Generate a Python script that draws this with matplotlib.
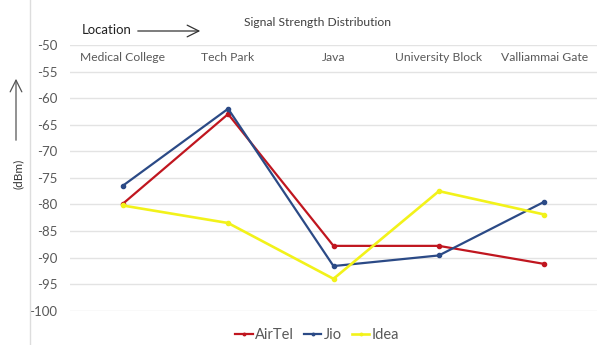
import matplotlib
matplotlib.use("Agg")
import matplotlib.pyplot as plt
from matplotlib.lines import Line2D

locations = ["Medical College", "Tech Park", "Java", "University Block", "Valliammai Gate"]
airtel = [-79.9, -63.0, -87.8, -87.8, -91.2]
jio = [-76.5, -62.0, -91.6, -89.6, -79.5]
idea = [-80.2, -83.5, -94.0, -77.5, -81.9]
yticks = [-50, -55, -60, -65, -70, -75, -80, -85, -90, -95, -100]

plt.rcParams['font.family'] = ['Lato', 'DejaVu Sans']
gray = "#595959"

fig = plt.figure(figsize=(5.97, 3.45), dpi=100)
ax = fig.add_axes([70/597, 1-310.7/345, (597-70)/597, (310.7-45)/345])

x = list(range(len(locations)))
ax.plot(x, airtel, color="#C0161F", lw=1.6, marker="o", ms=3, label="AirTel")
ax.plot(x, jio, color="#2B4A86", lw=1.6, marker="o", ms=3, label="Jio")
ax.plot(x, idea, color="#F2F21A", lw=1.9, marker="o", ms=3, label="Idea")

ax.set_xlim(-0.5, len(locations) - 0.5)
ax.set_ylim(-100, -50)
ax.set_yticks(yticks)
ax.set_yticklabels([str(v) for v in yticks], fontsize=9.5, color=gray)
ax.tick_params(axis="y", length=0, pad=9)
ax.set_xticks([])
ax.grid(axis="y", color="#E3E3E3", lw=1)
ax.set_axisbelow(True)
for s in ax.spines.values():
    s.set_visible(False)

for i, name in enumerate(locations):
    ax.text(i, -52.3, name, ha="center", va="center", fontsize=8.7, color=gray)

fig.text(318/597, 1-22/345, "Signal Strength Distribution", ha="center", va="center",
         fontsize=8.7, color="#404040")
fig.text(82/597, 1-30/345, "Location", ha="left", va="center", fontsize=9.5, color="#222222")
fig.add_artist(matplotlib.patches.FancyArrowPatch((135/597, 1-31/345), (203/597, 1-31/345),
               transform=fig.transFigure, arrowstyle="->,head_length=0.6,head_width=0.3",
               mutation_scale=14, color="#333333", lw=0.9))
fig.add_artist(matplotlib.patches.FancyArrowPatch((16/597, 1-143/345), (16/597, 1-76/345),
               transform=fig.transFigure, arrowstyle="->,head_length=0.6,head_width=0.3",
               mutation_scale=14, color="#555555", lw=0.9))
fig.text(18/597, 1-174/345, "(dBm)", rotation=90, ha="center", va="center",
         fontsize=8.5, color="#333333")
fig.add_artist(Line2D([30/597, 30/597], [0, 1], transform=fig.transFigure,
                      color="#DDDDDD", lw=1))

leg = fig.legend(loc="center", bbox_to_anchor=(317/597, 1-335/345), ncol=3, frameon=False,
                 fontsize=10.5, handlelength=1.2, handletextpad=0.15, columnspacing=0.7,
                 markerscale=0.6)
for t in leg.get_texts():
    t.set_color(gray)

fig.savefig("out.png", dpi=100)
